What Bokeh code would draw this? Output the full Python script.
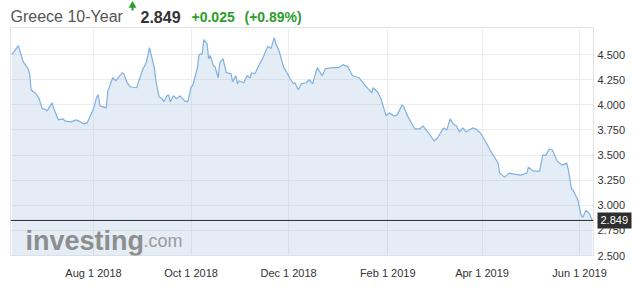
from datetime import datetime
from bokeh.plotting import figure
from bokeh.layouts import column
from bokeh.models import (Range1d, FixedTicker, CustomJSTickFormatter, PrintfTickFormatter,
                          Label, Span, ColumnDataSource, LinearAxis)
from bokeh.embed import file_html
from bokeh.resources import INLINE

# ---------------- data ----------------
dates = [
    "2018-06-11", "2018-06-15", "2018-06-18", "2018-06-21", "2018-06-22", "2018-06-23",
    "2018-06-26", "2018-06-28", "2018-06-30", "2018-07-01", "2018-07-03", "2018-07-06",
    "2018-07-07", "2018-07-10", "2018-07-13", "2018-07-14", "2018-07-18", "2018-07-21",
    "2018-07-24", "2018-07-26", "2018-07-28", "2018-08-01", "2018-08-03", "2018-08-04",
    "2018-08-05", "2018-08-09", "2018-08-10", "2018-08-13", "2018-08-15", "2018-08-19",
    "2018-08-20", "2018-08-22", "2018-08-24", "2018-08-28", "2018-08-29", "2018-09-01",
    "2018-09-03", "2018-09-05", "2018-09-08", "2018-09-09", "2018-09-11", "2018-09-13",
    "2018-09-14", "2018-09-16", "2018-09-17", "2018-09-18", "2018-09-20", "2018-09-22",
    "2018-09-24", "2018-09-27", "2018-09-29", "2018-10-01", "2018-10-02", "2018-10-05",
    "2018-10-06", "2018-10-08", "2018-10-09", "2018-10-11", "2018-10-12", "2018-10-13",
    "2018-10-15", "2018-10-16", "2018-10-18", "2018-10-19", "2018-10-21", "2018-10-23",
    "2018-10-26", "2018-10-27", "2018-10-29", "2018-10-30", "2018-10-31", "2018-11-03",
    "2018-11-05", "2018-11-07", "2018-11-08", "2018-11-10", "2018-11-12", "2018-11-15",
    "2018-11-18", "2018-11-20", "2018-11-22", "2018-11-23", "2018-11-25", "2018-11-28",
    "2018-11-30", "2018-12-02", "2018-12-04", "2018-12-05", "2018-12-07", "2018-12-09",
    "2018-12-12", "2018-12-14", "2018-12-16", "2018-12-19", "2018-12-22", "2018-12-24",
    "2018-12-29", "2019-01-01", "2019-01-04", "2019-01-07", "2019-01-10", "2019-01-14",
    "2019-01-17", "2019-01-22", "2019-01-23", "2019-01-26", "2019-01-28", "2019-01-31",
    "2019-02-02", "2019-02-05", "2019-02-07", "2019-02-10", "2019-02-11", "2019-02-14",
    "2019-02-18", "2019-02-21", "2019-02-23", "2019-02-27", "2019-03-02", "2019-03-04",
    "2019-03-06", "2019-03-08", "2019-03-10", "2019-03-12", "2019-03-14", "2019-03-16",
    "2019-03-18", "2019-03-20", "2019-03-22", "2019-03-26", "2019-03-28", "2019-03-31",
    "2019-04-03", "2019-04-06", "2019-04-08", "2019-04-11", "2019-04-12", "2019-04-15",
    "2019-04-18", "2019-04-21", "2019-04-25", "2019-04-29", "2019-04-30", "2019-05-03",
    "2019-05-07", "2019-05-09", "2019-05-11", "2019-05-13", "2019-05-15", "2019-05-18",
    "2019-05-21", "2019-05-24", "2019-05-25", "2019-05-27", "2019-05-28", "2019-05-31",
    "2019-06-02", "2019-06-03", "2019-06-05", "2019-06-07", "2019-06-09",
]
yields = [
    4.50, 4.59, 4.43, 4.36, 4.31, 4.15,
    4.11, 4.06, 3.96, 3.96, 3.94, 4.02,
    3.97, 3.85, 3.86, 3.84, 3.83, 3.85,
    3.83, 3.81, 3.82, 3.96, 4.08, 4.10,
    3.99, 3.97, 4.14, 4.27, 4.24, 4.32,
    4.31, 4.22, 4.18, 4.17, 4.22, 4.36,
    4.42, 4.57, 4.37, 4.24, 4.08, 4.06,
    4.03, 4.09, 4.10, 4.03, 4.09, 4.06,
    4.09, 4.04, 4.03, 4.18, 4.19, 4.37,
    4.50, 4.51, 4.65, 4.61, 4.46, 4.49,
    4.39, 4.38, 4.27, 4.42, 4.46, 4.32,
    4.31, 4.23, 4.29, 4.21, 4.24, 4.22,
    4.29, 4.27, 4.32, 4.31, 4.38, 4.47,
    4.58, 4.56, 4.67, 4.61, 4.54, 4.37,
    4.32, 4.26, 4.21, 4.22, 4.15, 4.21,
    4.22, 4.25, 4.21, 4.37, 4.29, 4.36,
    4.37, 4.37, 4.40, 4.38, 4.29, 4.27,
    4.21, 4.12, 4.17, 4.12, 4.05, 3.89,
    3.92, 3.89, 3.90, 4.00, 3.98, 3.87,
    3.76, 3.76, 3.79, 3.71, 3.64, 3.67,
    3.72, 3.77, 3.75, 3.86, 3.81, 3.79,
    3.73, 3.77, 3.73, 3.77, 3.76, 3.72,
    3.64, 3.55, 3.50, 3.42, 3.32, 3.28,
    3.32, 3.31, 3.30, 3.32, 3.38, 3.34,
    3.34, 3.50, 3.50, 3.56, 3.55, 3.44,
    3.40, 3.42, 3.35, 3.16, 3.15, 3.05,
    2.90, 2.88, 2.95, 2.92, 2.849,
]
last_value = 2.849
change = "+0.025"
change_pct = "(+0.89%)"
title_text = "Greece 10-Year"
x_tick_dates = ["2018-08-01", "2018-10-01", "2018-12-01", "2019-02-01", "2019-04-01", "2019-06-01"]
y_ticks = [2.5, 2.75, 3.0, 3.25, 3.5, 3.75, 4.0, 4.25, 4.5]

# ---------------- build ----------------
FONT = "Liberation Sans"
GREEN = "#2d9d2d"
W = 634
HEAD_H = 27
LEFT, RIGHT = 10, 593          # frame edges (pixels), shared by both stacked figures

epoch = datetime(1970, 1, 1)
def to_ms(dt):
    return (dt - epoch).total_seconds() * 1000

x = [datetime.strptime(d, "%Y-%m-%d") for d in dates]
tick_ms = [to_ms(datetime.strptime(d, "%Y-%m-%d")) for d in x_tick_dates]
x_start = datetime(2018, 6, 10, 2)
x_end = datetime(2019, 6, 9, 17)
y_lo, y_hi = 2.5, 4.77

# ---- header strip (its frame is aligned with the chart frame by the column layout) ----
h = figure(width=W, height=HEAD_H, output_backend="svg", toolbar_location=None,
           x_range=Range1d(LEFT, RIGHT), y_range=Range1d(0, HEAD_H),
           x_axis_location=None, y_axis_location=None, min_border=0,
           min_border_left=LEFT, min_border_right=W - RIGHT)
h.outline_line_color = None
h.grid.visible = False
h.background_fill_color = "white"
h.border_fill_color = "white"

def hdr(text, xpos, size, color, style="normal"):
    h.add_layout(Label(x=xpos, y=HEAD_H - 16, text=text, text_font=FONT, text_font_size=size,
                       text_color=color, text_font_style=style,
                       text_baseline="alphabetic", text_align="left"))

hdr(title_text, 10, "16px", "#555555")
hdr(f"{last_value:.3f}", 140, "16px", "#333333", "bold")
hdr(change, 191, "14px", GREEN, "bold")
hdr(change_pct, 244, "14px", GREEN, "bold")
# small "up" arrow icon
h.scatter(x=[132], y=[HEAD_H - 5], marker="triangle", size=8, fill_color=GREEN,
          line_color=None)
h.segment(x0=[132], y0=[HEAD_H - 10], x1=[132], y1=[HEAD_H - 6], line_color=GREEN,
          line_width=2)

# ---- main chart ----
p = figure(width=W, height=291 - HEAD_H, output_backend="svg", toolbar_location=None,
           x_axis_type="datetime", y_axis_location="right",
           x_range=Range1d(x_start, x_end), y_range=Range1d(y_lo, y_hi),
           min_border_left=LEFT, min_border_right=W - RIGHT, min_border_top=0,
           min_border_bottom=36)
p.background_fill_color = "white"
p.border_fill_color = "white"
p.outline_line_color = "#e3e3e3"

src = ColumnDataSource(dict(x=x, y=yields))
p.varea(x="x", y1=y_lo, y2="y", source=src, fill_color="#9dbbdc", fill_alpha=0.27)
p.line(x="x", y="y", source=src, line_color="#7fb0e0", line_width=1.2)

p.add_layout(Span(location=last_value, dimension="width", line_color="#2b2b2b", line_width=1))

xa = p.xaxis[0]
xa.ticker = FixedTicker(ticks=tick_ms)
xa.formatter = CustomJSTickFormatter(code="""
const m = ["Jan","Feb","Mar","Apr","May","Jun","Jul","Aug","Sep","Oct","Nov","Dec"];
const d = new Date(tick);
return m[d.getUTCMonth()] + " " + d.getUTCDate() + " " + d.getUTCFullYear();
""")
ya = p.yaxis[0]
ya.ticker = FixedTicker(ticks=y_ticks)
ya.formatter = PrintfTickFormatter(format="%.3f")
for ax in (xa, ya):
    ax.axis_line_color = None
    ax.major_tick_line_color = None
    ax.minor_tick_line_color = None
    ax.major_tick_out = 0
    ax.major_tick_in = 0
    ax.minor_tick_out = 0
    ax.major_label_text_font = FONT
    ax.major_label_text_font_size = "11px"
    ax.major_label_text_color = "#333333"
xa.major_label_standoff = 11
ya.major_label_standoff = 4

p.xgrid.ticker = FixedTicker(ticks=tick_ms)
p.ygrid.ticker = FixedTicker(ticks=y_ticks)
p.xgrid.grid_line_color = "#ececec"
p.ygrid.grid_line_color = "#ececec"

# current-value tag: a second right axis (outside the main one) with a single thick
# tick reaching inward to the frame edge (the dark box) and its label as the value
tag_ax = LinearAxis(ticker=FixedTicker(ticks=[last_value]),
                    formatter=PrintfTickFormatter(format="%.3f"))
tag_ax.axis_line_color = None
tag_ax.minor_tick_line_color = None
tag_ax.minor_tick_out = 0
tag_ax.minor_tick_in = 0
tag_ax.major_tick_in = 31
tag_ax.major_tick_out = 3
tag_ax.major_tick_line_width = 16
tag_ax.major_tick_line_color = "#2e2e2e"
tag_ax.major_label_standoff = -31
tag_ax.major_label_text_font = FONT
tag_ax.major_label_text_font_size = "11px"
tag_ax.major_label_text_color = "white"
p.add_layout(tag_ax, "right")

# watermark
p.add_layout(Label(x=x_start, y=y_lo, x_offset=15, y_offset=15, text="investing",
                   text_font=FONT, text_font_size="27px", text_font_style="bold",
                   text_color="#8e8e8e", text_baseline="alphabetic"))
p.add_layout(Label(x=x_start, y=y_lo, x_offset=133, y_offset=15, text=".com",
                   text_font=FONT, text_font_size="18px",
                   text_color="#9a9a9a", text_baseline="alphabetic"))

open("out.html", "w").write(file_html(column(h, p, spacing=0), INLINE))
